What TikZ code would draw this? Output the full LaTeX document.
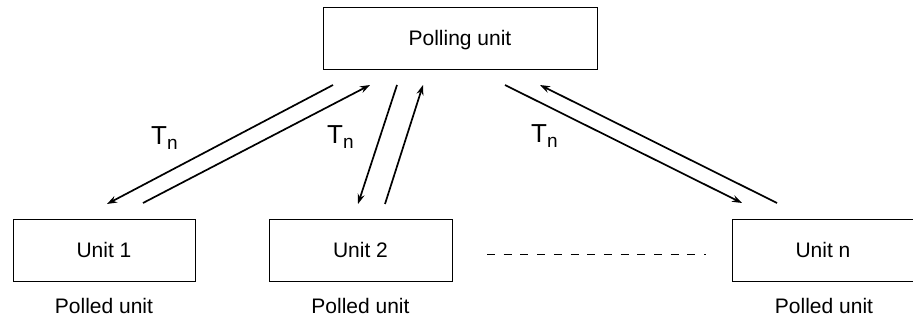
\documentclass[tikz,border=0pt]{standalone}
\usepackage{fontspec}
\setmainfont{Liberation Sans}
\usetikzlibrary{arrows.meta}

\begin{document}
\begin{tikzpicture}[x = 1pt, y = -1pt,
    box/.style = {draw, line width = .9pt, minimum width = #1, minimum height = 62pt, inner sep = 0pt,
      text height = 15pt, text depth = 0pt, font = \fontsize{21}{21}\selectfont},
    polled/.style = {anchor = base, font = \fontsize{21}{21}\selectfont},
    tn/.style = {anchor = base west, inner sep = 0pt, font = \fontsize{26}{26}\selectfont},
    arr/.style = {-{Stealth[length = 10pt, width = 7pt]}, line width = 1.7pt}]
    \useasboundingbox (0,0) rectangle (913,320);
    % boxes
    \node [box = 274pt] (poll) at (460,38) {Polling unit};
    \node [box = 182pt] (u1) at (104,250.5) {Unit 1};
    \node [box = 183pt] (u2) at (360.5,250.5) {Unit 2};
    \node [box = 182pt] (un) at (823,250.5) {Unit n};
    \node [polled] (p1) at (104,313) {Polled unit};
    \node [polled] (p2) at (360.5,313) {Polled unit};
    \node [polled] (pn) at (824,313) {Polled unit};
    % arrow ends
    \coordinate (a1) at (333,85);  \coordinate (b1) at (107,204);
    \coordinate (c1) at (143,203); \coordinate (d1) at (370,85);
    \coordinate (a2) at (397,85);  \coordinate (b2) at (358,204);
    \coordinate (c2) at (385,204); \coordinate (d2) at (423,85);
    \coordinate (a3) at (505,85);  \coordinate (b3) at (742,203);
    \coordinate (c3) at (777,203); \coordinate (d3) at (540,85);
    \foreach \i in {1,2,3} {
      \draw [arr] (a\i) -- (b\i);
      \draw [arr] (c\i) -- (d\i);
    }
    % labels
    \node [tn] (t1) at (151,145) {T\raisebox{-.35ex}{\fontsize{19}{19}\selectfont n}};
    \node [tn] (t2) at (327,144) {T\raisebox{-.35ex}{\fontsize{19}{19}\selectfont n}};
    \node [tn] (t3) at (531,143) {T\raisebox{-.35ex}{\fontsize{19}{19}\selectfont n}};
    % more units
    \coordinate (dl) at (487,254);
    \coordinate (dr) at (706,254);
    \draw [line width = .8pt, dash pattern = on 8pt off 8.7pt] (dl) -- (dr);
\end{tikzpicture}
\end{document}
